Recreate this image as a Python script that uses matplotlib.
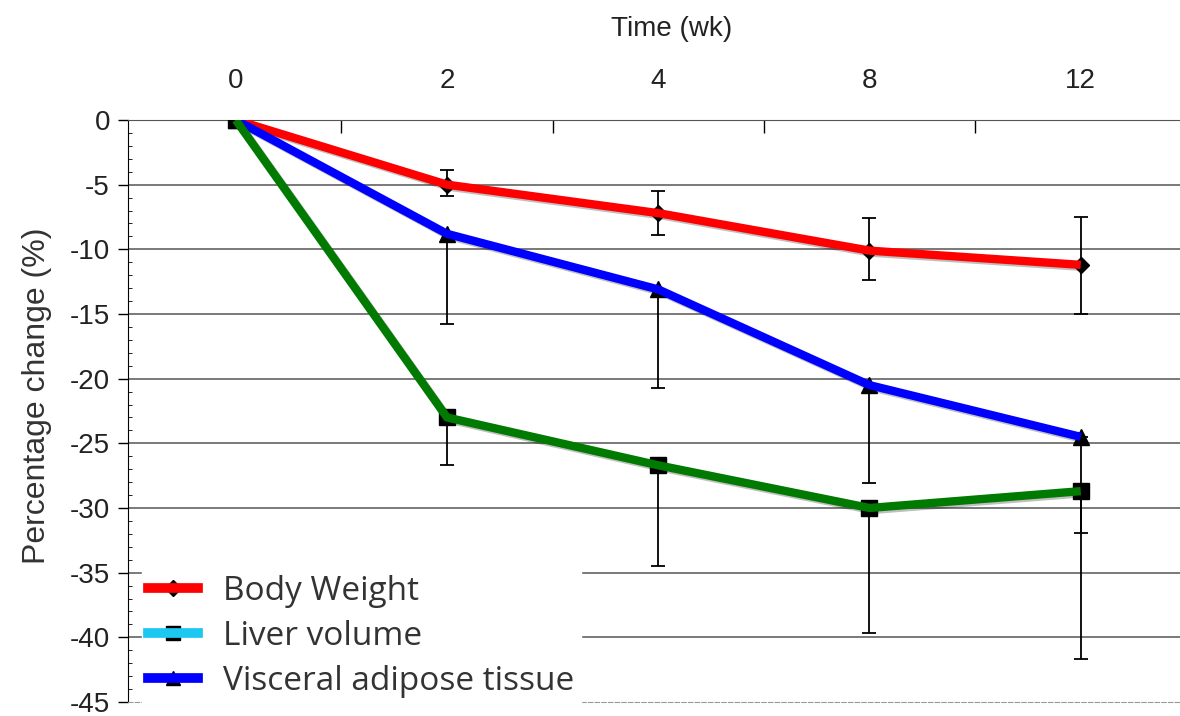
import matplotlib.pyplot as plt
import matplotlib.patheffects as pe
from matplotlib.lines import Line2D
import numpy as np

plt.rcParams['axes.unicode_minus'] = False

# data
weeks = ['0', '2', '4', '8', '12']
body_weight = [0, -5.0, -7.2, -10.1, -11.2]
bw_hi = [0, -3.9, -5.5, -7.6, -7.5]
bw_lo = [0, -5.9, -8.9, -12.4, -15.0]
vat = [0, -8.8, -13.1, -20.5, -24.5]
vat_lo = [0, -15.8, -20.7, -28.1, -31.9]
liver = [0, -23.0, -26.7, -30.0, -28.7]
liver_lo = [0, -26.7, -34.5, -39.7, -41.7]

x = np.arange(len(weeks))

fig = plt.figure(figsize=(11.8, 7.16), dpi=100)
ax = fig.add_axes([0.1085, 0.0196, 0.8915, 0.8128])

for y in range(-40, 1, 5):
    ax.axhline(y, color='#555555', lw=1.1, zorder=0)

shadow = [pe.SimpleLineShadow(offset=(1.5, -1.5), shadow_color='k', alpha=0.25), pe.Normal()]


def draw(vals, hi, lo, marker, ms, color):
    vals = np.array(vals)
    yerr = [vals - np.array(lo), np.array(hi) - vals]
    ax.errorbar(x, vals, yerr=yerr, fmt='none', ecolor='k', elinewidth=1.3,
                capsize=5, capthick=1.3, zorder=2)
    ax.plot(x, vals, ls='none', marker=marker, ms=ms, color='k', zorder=3)
    ax.plot(x, vals, color=color, lw=6, solid_capstyle='butt', zorder=4,
            path_effects=shadow)


draw(body_weight, bw_hi, bw_lo, 'D', 8, '#ff0000')
draw(vat, vat, vat_lo, '^', 11, '#0000ff')
draw(liver, liver, liver_lo, 's', 11, '#007a00')

ax.set_xlim(-0.51, 4.47)
ax.set_ylim(-45, 0)
ax.set_yticks(range(-45, 1, 5))
ax.set_yticks(range(-45, 1, 1), minor=True)
ax.set_xticks(x)
ax.set_xticklabels(weeks)
ax.set_xticks([0.5, 1.5, 2.5, 3.5], minor=True)
ax.xaxis.tick_top()
ax.xaxis.set_label_position('top')
ax.tick_params(axis='x', which='major', length=0, pad=18.5, labelsize=20)
ax.tick_params(axis='x', which='minor', direction='in', length=9, width=1, top=True, bottom=False)
ax.tick_params(axis='y', which='major', length=7, width=1, labelsize=20, pad=6)
ax.tick_params(axis='y', which='minor', direction='in', length=3, width=0.6)
for lab in ax.get_xticklabels() + ax.get_yticklabels():
    lab.set_fontfamily('Liberation Sans')
    lab.set_color('#222222')

ax.set_xlabel('Time (wk)', fontsize=20, family='Liberation Sans', color='#222222')
ax.xaxis.set_label_coords(0.517, 1.145)
ax.set_ylabel('Percentage change (%)', fontsize=23, family='Liberation Sans', color='#333333')
ax.yaxis.set_label_coords(-0.072, 0.527)

ax.spines['right'].set_visible(False)
ax.spines['top'].set_color('#555555')
ax.spines['bottom'].set_color('#999999')
ax.spines['bottom'].set_linestyle((0, (4, 2)))

handles = [
    (Line2D([], [], ls='none', marker='D', ms=8, color='k'), Line2D([], [], color='#ff0000', lw=7)),
    (Line2D([], [], ls='none', marker='s', ms=10, color='k'), Line2D([], [], color='#1cc8f0', lw=7)),
    (Line2D([], [], ls='none', marker='^', ms=10, color='k'), Line2D([], [], color='#0000ff', lw=7)),
]
labels = ['Body Weight', 'Liver volume', 'Visceral adipose tissue']
leg = ax.legend(handles, labels, loc='upper left', bbox_to_anchor=(0.013, 0.23),
                borderaxespad=0, frameon=True, fancybox=False, framealpha=1,
                edgecolor='white', prop={'family': 'Open Sans', 'size': 24},
                handlelength=1.5, handletextpad=0.75, labelspacing=0.36,
                borderpad=0.2)
for t in leg.get_texts():
    t.set_color('#333333')
leg.set_zorder(10)

fig.savefig('out.png', dpi=100)
